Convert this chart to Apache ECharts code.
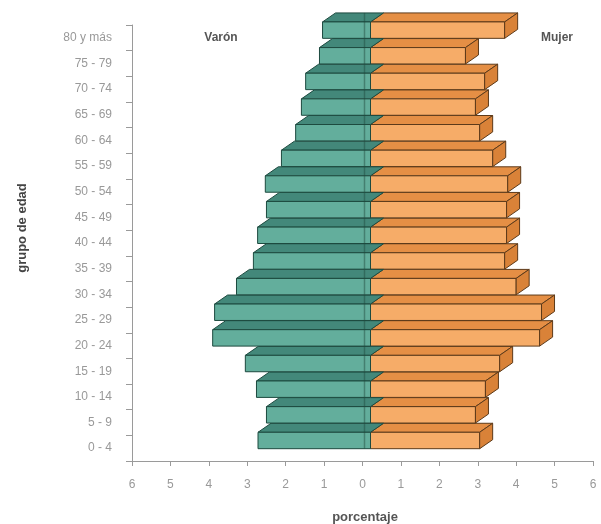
<!DOCTYPE html>
<html><head><meta charset="utf-8">
<script src="https://cdn.jsdelivr.net/npm/echarts@6/dist/echarts.min.js"></script>
<style>html,body{margin:0;padding:0;background:#fff}#c{width:601px;height:524px}</style>
</head><body><div id="c"></div>
<script>
var categories = ['0 - 4','5 - 9','10 - 14','15 - 19','20 - 24','25 - 29','30 - 34','35 - 39','40 - 44','45 - 49','50 - 54','55 - 59','60 - 64','65 - 69','70 - 74','75 - 79','80 y más'];
var varon = [2.72, 2.5, 2.76, 3.05, 3.9, 3.85, 3.28, 2.84, 2.73, 2.5, 2.53, 2.11, 1.74, 1.59, 1.48, 1.12, 1.04];
var mujer = [3.05, 2.94, 3.2, 3.57, 4.61, 4.66, 4.0, 3.7, 3.75, 3.75, 3.78, 3.39, 3.05, 2.94, 3.18, 2.68, 3.7];
var xTicks = [-6,-5,-4,-3,-2,-1,0,1,2,3,4,5,6];

var DX = 13, DY = -9, SHIFT = 8;
function makeRender(sign, front, top, side, stroke) {
  return function (params, api) {
    var cat = api.value(0), v = api.value(1);
    var p0 = api.coord([0, cat]);
    var p1 = api.coord([sign * v, cat]);
    var band = api.size([0, 1])[1];
    var h = band * 0.64;
    var yTop = p0[1] - band * 0.30 - h / 2;
    var xc = p0[0] + SHIFT;
    var xa = Math.min(xc, p1[0]), xb = Math.max(xc, p1[0]);
    var st = {stroke: stroke, lineWidth: 1};
    var children = [
      {type: 'polygon', shape: {points: [[xa, yTop], [xb, yTop], [xb + DX, yTop + DY], [xa + DX, yTop + DY]]},
        style: Object.assign({fill: top}, st)},
      {type: 'rect', shape: {x: xa, y: yTop, width: xb - xa, height: h},
        style: Object.assign({fill: front}, st)}
    ];
    if (sign > 0) {
      children.push({type: 'polygon', shape: {points: [[xb, yTop], [xb + DX, yTop + DY], [xb + DX, yTop + DY + h], [xb, yTop + h]]},
        style: Object.assign({fill: side}, st)});
    } else {
      children.push({type: 'line', shape: {x1: p0[0] + 2, y1: yTop + DY, x2: p0[0] + 2, y2: yTop + h},
        style: {stroke: 'rgba(30,70,60,0.45)', lineWidth: 1.5}});
    }
    return {type: 'group', children: children};
  };
}

var chart = echarts.init(document.getElementById('c'), null, {renderer: 'canvas'});
chart.setOption({
  animation: false,
  grid: {left: 132, right: 8, top: 25, bottom: 63, containLabel: false},
  xAxis: {
    type: 'value', min: -6, max: 6, interval: 1,
    axisLine: {show: true, onZero: false, lineStyle: {color: '#9a9a9a'}},
    axisTick: {show: true, length: 5, lineStyle: {color: '#9a9a9a'}},
    splitLine: {show: false},
    axisLabel: {margin: 18, color: '#999', fontSize: 12, fontFamily: 'Liberation Sans',
      formatter: function (v) { return Math.abs(v); }}
  },
  yAxis: {
    type: 'category', data: categories, boundaryGap: true,
    axisLine: {show: true, onZero: false, lineStyle: {color: '#9a9a9a'}},
    axisTick: {show: true, length: 6, lineStyle: {color: '#9a9a9a'}},
    axisLabel: {margin: 20, color: '#999', fontSize: 12, fontFamily: 'Liberation Sans'}
  },
  series: [
    {type: 'custom', name: 'Mujer', renderItem: makeRender(1, '#f6ac68', '#e58f45', '#d98238', '#5c3a1a'),
      data: mujer.map(function (v, i) { return [i, v]; }), encode: {x: 1, y: 0}, clip: false},
    {type: 'custom', name: 'Varón', renderItem: makeRender(-1, '#63ae9c', '#43887a', '#43887a', '#1d4a3f'),
      data: varon.map(function (v, i) { return [i, v]; }), encode: {x: 1, y: 0}, clip: false}
  ],
  graphic: [
    {type: 'text', x: 221, y: 38, style: {text: 'Varón', fill: '#555', font: 'bold 12px Liberation Sans', align: 'center', verticalAlign: 'middle'}},
    {type: 'text', x: 557, y: 38, style: {text: 'Mujer', fill: '#555', font: 'bold 12px Liberation Sans', align: 'center', verticalAlign: 'middle'}},
    {type: 'text', x: 365, y: 517, style: {text: 'porcentaje', fill: '#555', font: 'bold 13px Liberation Sans', align: 'center', verticalAlign: 'middle'}},
    {type: 'text', x: 22, y: 228, rotation: Math.PI / 2, style: {text: 'grupo de edad', fill: '#444', font: 'bold 13px Liberation Sans', align: 'center', verticalAlign: 'middle'}}
  ]
});
</script></body></html>
